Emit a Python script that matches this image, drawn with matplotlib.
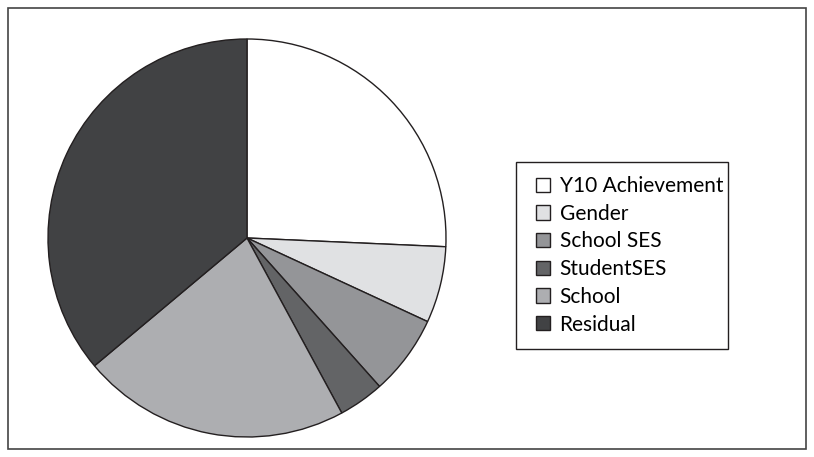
import matplotlib.pyplot as plt
from matplotlib.patches import Rectangle

labels = ["Y10 Achievement", "Gender", "School SES", "StudentSES", "School", "Residual"]
shares = [25.7, 6.2, 6.5, 3.7, 21.8, 36.1]
colors = ["#ffffff", "#e0e1e3", "#949598", "#636466", "#adaeb1", "#414244"]

W, H = 814, 457
fig = plt.figure(figsize=(W / 100, H / 100), dpi=100)
# outer frame
fig.patches.append(Rectangle((8 / W, 8 / H), 798 / W, 441 / H, transform=fig.transFigure,
                             fill=False, edgecolor="#444444", linewidth=1.2))
# legend frame
fig.patches.append(Rectangle((516 / W, 1 - 349 / H), 212 / W, 187 / H, transform=fig.transFigure,
                             fill=False, edgecolor="#231f20", linewidth=1.0))

ax = fig.add_axes([48 / W, 20 / H, 398 / W, 398 / H])
wedges, _ = ax.pie(shares, colors=colors, startangle=90, counterclock=False,
                   wedgeprops=dict(edgecolor="#231f20", linewidth=1.0))
ax.set_aspect("auto")
ax.set_xlim(-1.0, 1.0)
ax.set_ylim(-1.0, 1.0)

leg = fig.legend(wedges, labels, loc="upper left",
                 bbox_to_anchor=(536 / W, 1 - 176 / H),
                 prop={"family": "Lato", "size": 15},
                 frameon=False,
                 handlelength=0.68, handleheight=0.68, handletextpad=0.45,
                 labelspacing=0.37, borderpad=0, borderaxespad=0)

fig.savefig("out.png", dpi=100)
